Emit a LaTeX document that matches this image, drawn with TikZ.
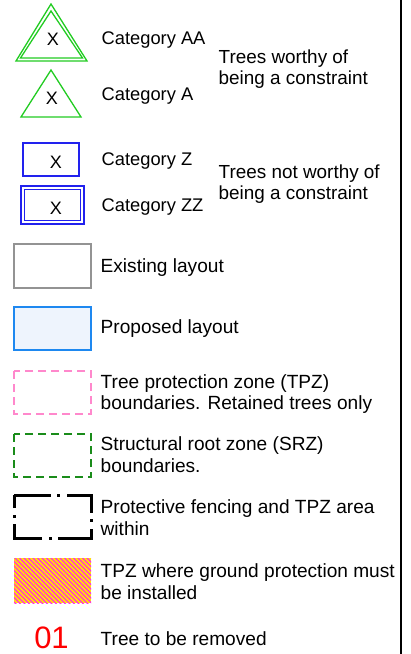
\documentclass[tikz,border=0pt]{standalone}
\usepackage{fontspec}
\setmainfont{Liberation Sans}
\begin{document}
\begin{tikzpicture}[x=1pt,y=-1pt,
  lbl/.style={anchor=west,inner sep=0pt,align=left,font=\fontsize{19.1}{21.8}\selectfont},
  catlbl/.style={lbl,font=\fontsize{18.3}{21}\selectfont},
  grplbl/.style={lbl,font=\fontsize{18.9}{20.5}\selectfont},
  xsym/.style={inner sep=0pt,font=\fontsize{18}{20}\selectfont},
  tri/.style={draw=triG,line width=1.3pt,line join=miter},
  zbox/.style={draw=boxB,line width=1.3pt},
  keybox/.style={line width=1.6pt}]
\definecolor{triG}{HTML}{22CC22}
\definecolor{boxB}{HTML}{2222EE}
\definecolor{propB}{HTML}{1E88F0}
\definecolor{propF}{HTML}{EEF4FD}
\definecolor{tpzP}{HTML}{FF88CC}
\definecolor{srzG}{HTML}{1A8C1A}
\definecolor{hatchM}{HTML}{FF33DD}
\definecolor{hatchY}{HTML}{FFE600}
\useasboundingbox (0,0) rectangle (411,654);
\fill[white] (0,0) rectangle (411,654);
% right border line
\coordinate (bt) at (401,0);
\coordinate (bb) at (401,654);
\draw[line width=1.3pt] (bt) -- (bb);
% Category AA
\draw[tri] (51,4) -- (87,61) -- (16,61) -- cycle;
\draw[tri] (51,11) -- (82.5,58) -- (20.5,58) -- cycle;
\node[xsym] (xaa) at (53,39) {X};
\node[catlbl] (taa) at (101.5,40) {Category AA};
% Category A
\draw[tri] (51,70) -- (81,117) -- (21,117) -- cycle;
\node[xsym] (xa) at (52,98) {X};
\node[catlbl] (ta) at (101.5,96) {Category A};
\node[grplbl] (worthy) at (218.5,69) {Trees worthy of\\being a constraint};
% Category Z
\draw[zbox] (23,143) rectangle (79,176);
\node[xsym] (xz) at (56,162) {X};
\node[catlbl] (tz) at (101.5,161) {Category Z};
% Category ZZ
\draw[zbox] (21,186) rectangle (84,224);
\draw[zbox] (24.5,189.5) rectangle (80.5,220.5);
\node[xsym] (xzz) at (56,208) {X};
\node[catlbl] (tzz) at (101.5,207) {Category ZZ};
\node[grplbl] (notworthy) at (218.5,184) {Trees not worthy of\\being a constraint};
% Existing layout
\draw[keybox,draw=gray!85] (14,244) rectangle (91,288);
\node[lbl] (exist) at (100.5,268) {Existing layout};
% Proposed layout
\draw[keybox,draw=propB,fill=propF] (14,307) rectangle (91,350);
\node[lbl] (prop) at (100.5,329) {Proposed layout};
% TPZ
\draw[keybox,draw=tpzP,dash pattern=on 8pt off 5pt] (14,371) rectangle (91,414);
\node[lbl] (tpz) at (100.5,394) {Tree protection zone (TPZ)\\boundaries. Retained trees only};
% SRZ
\draw[keybox,draw=srzG,dash pattern=on 8pt off 5pt] (14,434) rectangle (91,477);
\node[lbl] (srz) at (100.5,455) {Structural root zone (SRZ)\\boundaries.};
% Protective fencing
\draw[line width=3pt,dash pattern=on 42pt off 6pt on 3pt off 7pt,dash phase=5pt]
  (14,495) -- (91,495) -- (91,538) -- (14,538) -- cycle;
\node[lbl] (fence) at (100.5,518) {Protective fencing and TPZ area\\within};
% Ground protection hatch
\fill[hatchY] (14,558) rectangle (91,603);
\begin{scope}
\clip (14,558) rectangle (91,603);
\foreach \k in {-60,-55.5,...,90}{
  \draw[hatchM,line width=1.4pt] (\k,555) -- (\k+52,607);
}
\end{scope}
\node[lbl] (ground) at (100.5,582) {TPZ where ground protection must\\be installed};
% Tree to be removed
\node[inner sep=0pt,text=red,font=\fontsize{31}{34}\selectfont] (n01) at (51.5,638) {01};
\node[lbl] (removed) at (100.5,639) {Tree to be removed};
\end{tikzpicture}
\end{document}
